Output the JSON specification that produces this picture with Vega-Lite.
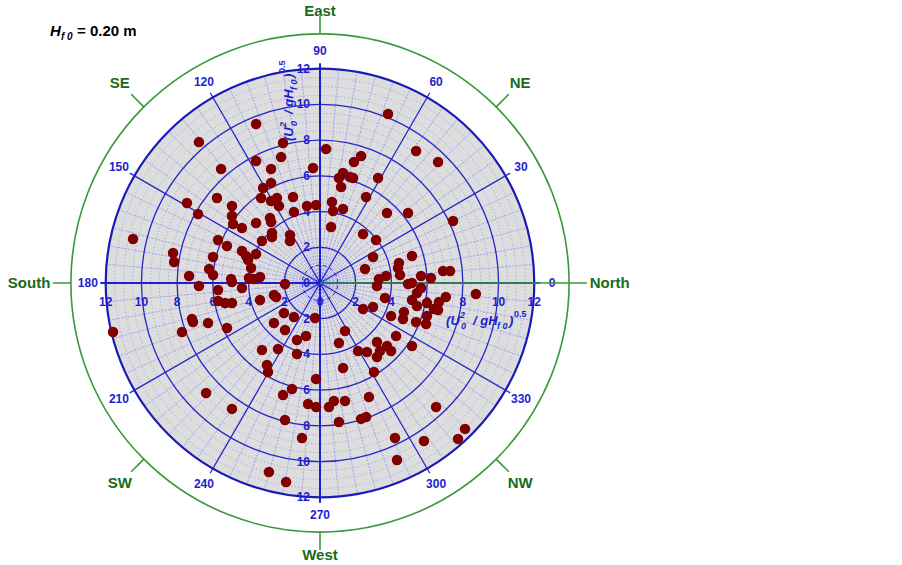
{
  "$schema": "https://vega.github.io/schema/vega-lite/v6.json",
  "width": 500,
  "height": 500,
  "autosize": "none",
  "padding": {"left": 70, "top": 33, "right": 332, "bottom": 32},
  "background": "white",
  "config": {"view": {"stroke": null}},
  "datasets": {
    "pts": [
      {"x":-3.58,"y":8.90},{"x":-6.78,"y":7.89},{"x":-2.07,"y":7.84},{"x":-2.18,"y":7.05},{"x":-3.58,"y":6.83},{"x":-5.54,"y":6.38},{"x":-2.74,"y":6.38},{"x":-0.39,"y":6.44},{"x":-2.74,"y":5.60},{"x":-3.19,"y":5.32},
      {"x":-5.77,"y":4.76},{"x":-3.30,"y":4.76},{"x":-2.41,"y":4.76},{"x":-1.51,"y":4.82},{"x":3.81,"y":9.46},{"x":0.34,"y":7.50},{"x":5.38,"y":7.39},{"x":6.61,"y":6.78},{"x":2.30,"y":7.11},{"x":1.90,"y":6.78},
      {"x":1.29,"y":6.16},{"x":1.06,"y":5.88},{"x":1.68,"y":5.94},{"x":1.85,"y":5.88},{"x":3.25,"y":5.88},{"x":1.18,"y":5.38},{"x":2.58,"y":4.82},{"x":0.67,"y":4.54},{"x":-2.74,"y":4.59},{"x":-2.30,"y":4.31},
      {"x":-0.73,"y":4.31},{"x":-0.22,"y":4.37},{"x":-7.45,"y":4.48},{"x":-4.93,"y":4.31},{"x":-4.93,"y":3.75},{"x":-6.83,"y":3.86},{"x":-1.46,"y":3.98},{"x":-2.80,"y":3.64},{"x":-2.74,"y":3.42},{"x":-3.58,"y":3.36},
      {"x":-4.87,"y":3.30},{"x":-4.37,"y":3.08},{"x":-2.69,"y":2.80},{"x":-2.69,"y":2.58},{"x":-1.68,"y":2.69},{"x":-1.68,"y":2.35},{"x":-10.47,"y":2.46},{"x":-5.71,"y":2.41},{"x":-3.25,"y":2.35},{"x":-5.21,"y":2.07},
      {"x":-8.23,"y":1.68},{"x":-4.37,"y":1.79},{"x":-5.99,"y":1.46},{"x":-4.14,"y":1.51},{"x":-3.58,"y":1.62},{"x":-4.03,"y":1.29},{"x":-8.17,"y":1.18},{"x":-3.86,"y":0.84},{"x":-6.21,"y":0.78},{"x":-5.99,"y":0.45},
      {"x":-7.33,"y":0.39},{"x":-3.98,"y":0.28},{"x":-3.70,"y":0.22},{"x":-3.36,"y":0.34},{"x":-4.98,"y":0.22},{"x":-4.93,"y":0.06},{"x":-6.78,"y":-0.17},{"x":-4.37,"y":-0.28},{"x":-1.96,"y":-0.06},{"x":-5.71,"y":-0.39},
      {"x":-2.58,"y":-0.67},{"x":-2.46,"y":-0.78},{"x":-3.36,"y":-0.95},{"x":-5.71,"y":-1.01},{"x":-5.32,"y":-1.12},{"x":-4.93,"y":-1.12},{"x":-7.17,"y":-2.02},{"x":-7.11,"y":-2.18},{"x":-6.27,"y":-2.24},{"x":-2.02,"y":-1.68},
      {"x":-1.46,"y":-1.90},{"x":-0.28,"y":-1.96},{"x":-2.58,"y":-2.24},{"x":-5.21,"y":-2.52},{"x":-1.96,"y":-2.63},{"x":-11.59,"y":-2.74},{"x":-7.73,"y":-2.74},{"x":-0.78,"y":-2.97},{"x":-1.29,"y":-3.19},{"x":-2.35,"y":-3.70},
      {"x":-3.25,"y":-3.75},{"x":-1.29,"y":-3.98},{"x":-2.97,"y":-4.59},{"x":-2.91,"y":-4.98},{"x":-0.22,"y":-5.38},{"x":0.73,"y":4.03},{"x":1.29,"y":4.14},{"x":3.75,"y":3.92},{"x":4.93,"y":3.92},{"x":7.45,"y":3.47},
      {"x":0.62,"y":3.14},{"x":2.41,"y":2.74},{"x":3.14,"y":2.41},{"x":2.97,"y":1.46},{"x":5.15,"y":1.51},{"x":4.42,"y":1.12},{"x":4.37,"y":0.84},{"x":4.48,"y":0.45},{"x":2.52,"y":0.78},{"x":6.89,"y":0.67},
      {"x":7.28,"y":0.67},{"x":3.70,"y":0.39},{"x":3.30,"y":0.22},{"x":5.66,"y":0.39},{"x":6.21,"y":0.28},{"x":3.19,"y":-0.17},{"x":4.93,"y":-0.06},{"x":5.15,"y":0.0},{"x":5.66,"y":-0.28},{"x":5.43,"y":-0.56},
      {"x":8.73,"y":-0.62},{"x":7.05,"y":-0.78},{"x":3.64,"y":-0.84},{"x":5.15,"y":-0.95},{"x":5.99,"y":-1.12},{"x":6.66,"y":-1.06},{"x":5.43,"y":-1.29},{"x":2.97,"y":-1.34},{"x":2.41,"y":-1.46},{"x":6.38,"y":-1.46},
      {"x":6.61,"y":-1.51},{"x":4.70,"y":-1.62},{"x":3.98,"y":-1.85},{"x":5.99,"y":-1.85},{"x":4.65,"y":-2.02},{"x":5.38,"y":-2.18},{"x":5.94,"y":-2.30},{"x":1.40,"y":-2.69},{"x":4.26,"y":-2.97},{"x":1.06,"y":-3.36},
      {"x":3.19,"y":-3.30},{"x":3.75,"y":-3.53},{"x":5.15,"y":-3.53},{"x":3.36,"y":-3.81},{"x":3.98,"y":-3.81},{"x":2.13,"y":-3.81},{"x":2.63,"y":-3.86},{"x":3.19,"y":-4.14},{"x":1.29,"y":-4.76},{"x":3.02,"y":-4.98},
      {"x":-1.57,"y":-5.94},{"x":-2.07,"y":-6.27},{"x":-6.38,"y":-6.16},{"x":-0.67,"y":-6.78},{"x":-0.22,"y":-6.94},{"x":-4.93,"y":-7.05},{"x":-1.96,"y":-7.67},{"x":-1.01,"y":-8.68},{"x":-2.86,"y":-10.58},{"x":-1.90,"y":-11.14},
      {"x":0.50,"y":-6.94},{"x":0.78,"y":-6.61},{"x":1.40,"y":-6.61},{"x":2.74,"y":-6.38},{"x":6.50,"y":-6.94},{"x":1.06,"y":-7.78},{"x":2.30,"y":-7.61},{"x":2.58,"y":-7.50},{"x":4.20,"y":-8.68},{"x":5.82,"y":-8.85},
      {"x":7.73,"y":-8.73},{"x":8.12,"y":-8.17},{"x":4.31,"y":-9.91}
    ],
    "minorRings": [{"r":0.5},{"r":1.5},{"r":2.5},{"r":3},{"r":3.5},{"r":4.5},{"r":5},{"r":5.5},{"r":6.5},{"r":7},{"r":7.5},{"r":8.5},{"r":9},{"r":9.5},{"r":10.5},{"r":11},{"r":11.5}],
    "majorRings": [{"r":2},{"r":4},{"r":6},{"r":8},{"r":10}],
    "minorSpokes": [{"a":5},{"a":10},{"a":15},{"a":20},{"a":25},{"a":35},{"a":40},{"a":45},{"a":50},{"a":55},{"a":65},{"a":70},{"a":75},{"a":80},{"a":85},{"a":95},{"a":100},{"a":105},{"a":110},{"a":115},{"a":125},{"a":130},{"a":135},{"a":140},{"a":145},{"a":155},{"a":160},{"a":165},{"a":170},{"a":175},{"a":185},{"a":190},{"a":195},{"a":200},{"a":205},{"a":215},{"a":220},{"a":225},{"a":230},{"a":235},{"a":245},{"a":250},{"a":255},{"a":260},{"a":265},{"a":275},{"a":280},{"a":285},{"a":290},{"a":295},{"a":305},{"a":310},{"a":315},{"a":320},{"a":325},{"a":335},{"a":340},{"a":345},{"a":350},{"a":355}],
    "spokes": [{"a":30},{"a":60},{"a":120},{"a":150},{"a":210},{"a":240},{"a":300},{"a":330}],
    "axes4": [{"a":0},{"a":90},{"a":180},{"a":270}],
    "angleLabels": [{"a":0},{"a":30},{"a":60},{"a":90},{"a":120},{"a":150},{"a":180},{"a":210},{"a":240},{"a":270},{"a":300},{"a":330}],
    "rlab0": [{"r":0},{"r":2},{"r":4},{"r":6},{"r":8},{"r":10},{"r":12}],
    "rlab": [{"r":2},{"r":4},{"r":6},{"r":8},{"r":10},{"r":12}],
    "compass": [{"name":"North","a":0},{"name":"NE","a":45},{"name":"East","a":90},{"name":"SE","a":135},{"name":"South","a":180},{"name":"SW","a":225},{"name":"West","a":270},{"name":"NW","a":315}],
    "cEW": [{"name":"East","a":90},{"name":"West","a":270}],
    "cN": [{"name":"North","a":0}],
    "cS": [{"name":"South","a":180}],
    "cDiag": [{"name":"NE","a":45},{"name":"SE","a":135},{"name":"SW","a":225},{"name":"NW","a":315}]
  },
  "layer": [
    {"data": {"values": [{}]}, "mark": {"type": "arc", "fill": "#dddddd", "strokeWidth": 0},
     "encoding": {"theta": {"datum": 0, "scale": {"type": "linear", "domain": [0, 360], "range": [1.5707963, -4.712389], "nice": false, "zero": false}}, "theta2": {"datum": 360},
       "radius": {"datum": 12, "scale": {"type": "linear", "domain": [0, 14], "range": [0, 250], "nice": false, "zero": true}}}},
    {"data": {"name": "minorRings"}, "mark": {"type": "arc", "fill": "transparent", "stroke": "#8e8ef2", "strokeWidth": 0.7, "strokeDash": [1.2, 2.2]},
     "encoding": {"theta": {"datum": 0}, "theta2": {"datum": 360}, "radius": {"field": "r", "type": "quantitative", "stack": null}}},
    {"data": {"name": "minorSpokes"}, "mark": {"type": "arc", "fill": "transparent", "stroke": "#8e8ef2", "strokeWidth": 0.7, "strokeDash": [1.2, 2.2]},
     "encoding": {"theta": {"field": "a", "type": "quantitative", "stack": null}, "theta2": {"field": "a"}, "radius": {"datum": 12}, "radius2": {"datum": 0}}},
    {"data": {"name": "majorRings"}, "mark": {"type": "arc", "fill": "transparent", "stroke": "#2626cc", "strokeWidth": 1.3},
     "encoding": {"theta": {"datum": 0}, "theta2": {"datum": 360}, "radius": {"field": "r", "type": "quantitative", "stack": null}}},
    {"data": {"values": [{}]}, "mark": {"type": "arc", "fill": "transparent", "stroke": "#2626cc", "strokeWidth": 1, "strokeDash": [4, 3]},
     "encoding": {"theta": {"datum": 0}, "theta2": {"datum": 360}, "radius": {"datum": 1}}},
    {"data": {"values": [{}]}, "mark": {"type": "arc", "fill": "transparent", "stroke": "#1a1ab8", "strokeWidth": 2.2},
     "encoding": {"theta": {"datum": 0}, "theta2": {"datum": 360}, "radius": {"datum": 12}}},
    {"data": {"name": "spokes"}, "mark": {"type": "arc", "fill": "transparent", "stroke": "#2626cc", "strokeWidth": 1.3},
     "encoding": {"theta": {"field": "a", "type": "quantitative", "stack": null}, "theta2": {"field": "a"}, "radius": {"datum": 12.3}, "radius2": {"datum": 0}}},
    {"data": {"name": "axes4"}, "mark": {"type": "arc", "fill": "transparent", "stroke": "#1f1fd0", "strokeWidth": 2},
     "encoding": {"theta": {"field": "a", "type": "quantitative", "stack": null}, "theta2": {"field": "a"}, "radius": {"datum": 12.3}, "radius2": {"datum": 0}}},
    {"data": {"name": "rlab0"}, "mark": {"type": "text", "dy": 19, "align": "center", "baseline": "middle", "font": "Liberation Sans", "fontWeight": "bold", "fontSize": 12, "color": "#1e1ecf"},
     "encoding": {"theta": {"datum": 0}, "radius": {"field": "r", "type": "quantitative", "stack": null}, "text": {"field": "r", "type": "quantitative"}}},
    {"data": {"name": "rlab"}, "mark": {"type": "text", "dy": 19, "align": "center", "baseline": "middle", "font": "Liberation Sans", "fontWeight": "bold", "fontSize": 12, "color": "#1e1ecf"},
     "encoding": {"theta": {"datum": 180}, "radius": {"field": "r", "type": "quantitative", "stack": null}, "text": {"field": "r", "type": "quantitative"}}},
    {"data": {"name": "rlab0"}, "mark": {"type": "text", "dx": -10, "align": "right", "baseline": "middle", "font": "Liberation Sans", "fontWeight": "bold", "fontSize": 12, "color": "#1e1ecf"},
     "encoding": {"theta": {"datum": 90}, "radius": {"field": "r", "type": "quantitative", "stack": null}, "text": {"field": "r", "type": "quantitative"}}},
    {"data": {"name": "rlab"}, "mark": {"type": "text", "dx": -10, "align": "right", "baseline": "middle", "font": "Liberation Sans", "fontWeight": "bold", "fontSize": 12, "color": "#1e1ecf"},
     "encoding": {"theta": {"datum": 270}, "radius": {"field": "r", "type": "quantitative", "stack": null}, "text": {"field": "r", "type": "quantitative"}}},
    {"data": {"name": "angleLabels"}, "mark": {"type": "text", "align": "center", "baseline": "middle", "font": "Liberation Sans", "fontWeight": "bold", "fontSize": 12, "color": "#1e1ecf"},
     "encoding": {"theta": {"field": "a", "type": "quantitative", "stack": null}, "radius": {"datum": 13.0}, "text": {"field": "a", "type": "quantitative"}}},
    {"data": {"values": [{}]}, "mark": {"type": "arc", "fill": "transparent", "stroke": "#3a993a", "strokeWidth": 1.6},
     "encoding": {"theta": {"datum": 0}, "theta2": {"datum": 360}, "radius": {"datum": 13.95}}},
    {"data": {"name": "compass"}, "mark": {"type": "arc", "fill": "transparent", "stroke": "#3a993a", "strokeWidth": 1.6},
     "encoding": {"theta": {"field": "a", "type": "quantitative", "stack": null}, "theta2": {"field": "a"}, "radius": {"datum": 14.95}, "radius2": {"datum": 13.95}}},
    {"data": {"name": "cEW"}, "mark": {"type": "text", "align": "center", "baseline": "middle", "font": "Liberation Sans", "fontWeight": "bold", "fontSize": 15, "color": "#1b6a1b"},
     "encoding": {"theta": {"field": "a", "type": "quantitative", "stack": null}, "radius": {"datum": 15.25}, "text": {"field": "name"}}},
    {"data": {"name": "cN"}, "mark": {"type": "text", "align": "left", "baseline": "middle", "font": "Liberation Sans", "fontWeight": "bold", "fontSize": 15, "color": "#1b6a1b"},
     "encoding": {"theta": {"field": "a", "type": "quantitative", "stack": null}, "radius": {"datum": 15.1}, "text": {"field": "name"}}},
    {"data": {"name": "cS"}, "mark": {"type": "text", "align": "right", "baseline": "middle", "font": "Liberation Sans", "fontWeight": "bold", "fontSize": 15, "color": "#1b6a1b"},
     "encoding": {"theta": {"field": "a", "type": "quantitative", "stack": null}, "radius": {"datum": 15.1}, "text": {"field": "name"}}},
    {"data": {"name": "cDiag"}, "mark": {"type": "text", "align": "center", "baseline": "middle", "font": "Liberation Sans", "fontWeight": "bold", "fontSize": 15, "color": "#1b6a1b"},
     "encoding": {"theta": {"field": "a", "type": "quantitative", "stack": null}, "radius": {"datum": 15.85}, "text": {"field": "name"}}},
    {"data": {"name": "pts"}, "mark": {"type": "circle", "color": "#800000", "opacity": 1, "size": 110},
     "encoding": {"x": {"field": "x", "type": "quantitative", "scale": {"domain": [-14, 14], "nice": false}, "axis": null},
       "y": {"field": "y", "type": "quantitative", "scale": {"domain": [-14, 14], "nice": false}, "axis": null}}},
    {"data": {"values": [{}]}, "mark": {"type": "text", "text": "H", "align": "left", "baseline": "alphabetic", "font": "Liberation Sans", "fontWeight": "bold", "fontStyle": "italic", "fontSize": 15, "color": "black"},
     "encoding": {"x": {"datum": -15.12}, "y": {"datum": 13.83}}},
    {"data": {"values": [{}]}, "mark": {"type": "text", "text": "f 0", "dx": 11, "dy": 4, "align": "left", "baseline": "alphabetic", "font": "Liberation Sans", "fontWeight": "bold", "fontStyle": "italic", "fontSize": 10, "color": "black"},
     "encoding": {"x": {"datum": -15.12}, "y": {"datum": 13.83}}},
    {"data": {"values": [{}]}, "mark": {"type": "text", "text": "= 0.20 m", "dx": 27, "align": "left", "baseline": "alphabetic", "font": "Liberation Sans", "fontWeight": "bold", "fontSize": 15, "color": "black"},
     "encoding": {"x": {"datum": -15.12}, "y": {"datum": 13.83}}},
    {"data": {"values": [{}]}, "mark": {"type": "text", "text": "(U", "dx": 0, "align": "left", "baseline": "alphabetic", "font": "Liberation Sans", "fontWeight": "bold", "fontStyle": "italic", "fontSize": 13, "color": "#1e1ecf"},
     "encoding": {"x": {"datum": 7.06}, "y": {"datum": -2.35}}},
    {"data": {"values": [{}]}, "mark": {"type": "text", "text": "2", "dx": 14, "dy": -7, "align": "left", "baseline": "alphabetic", "font": "Liberation Sans", "fontWeight": "bold", "fontStyle": "italic", "fontSize": 9, "color": "#1e1ecf"},
     "encoding": {"x": {"datum": 7.06}, "y": {"datum": -2.35}}},
    {"data": {"values": [{}]}, "mark": {"type": "text", "text": "0", "dx": 15, "dy": 4, "align": "left", "baseline": "alphabetic", "font": "Liberation Sans", "fontWeight": "bold", "fontStyle": "italic", "fontSize": 9, "color": "#1e1ecf"},
     "encoding": {"x": {"datum": 7.06}, "y": {"datum": -2.35}}},
    {"data": {"values": [{}]}, "mark": {"type": "text", "text": "/ gH", "dx": 27, "align": "left", "baseline": "alphabetic", "font": "Liberation Sans", "fontWeight": "bold", "fontStyle": "italic", "fontSize": 13, "color": "#1e1ecf"},
     "encoding": {"x": {"datum": 7.06}, "y": {"datum": -2.35}}},
    {"data": {"values": [{}]}, "mark": {"type": "text", "text": "f 0", "dx": 51, "dy": 4, "align": "left", "baseline": "alphabetic", "font": "Liberation Sans", "fontWeight": "bold", "fontStyle": "italic", "fontSize": 9, "color": "#1e1ecf"},
     "encoding": {"x": {"datum": 7.06}, "y": {"datum": -2.35}}},
    {"data": {"values": [{}]}, "mark": {"type": "text", "text": ")", "dx": 63, "align": "left", "baseline": "alphabetic", "font": "Liberation Sans", "fontWeight": "bold", "fontStyle": "italic", "fontSize": 13, "color": "#1e1ecf"},
     "encoding": {"x": {"datum": 7.06}, "y": {"datum": -2.35}}},
    {"data": {"values": [{}]}, "mark": {"type": "text", "text": "0.5", "dx": 68, "dy": -8, "align": "left", "baseline": "alphabetic", "font": "Liberation Sans", "fontWeight": "bold", "fontSize": 9, "color": "#1e1ecf"},
     "encoding": {"x": {"datum": 7.06}, "y": {"datum": -2.35}}},
    {"data": {"values": [{}]}, "mark": {"type": "text", "text": "(U", "angle": 270, "dx": 0, "align": "left", "baseline": "alphabetic", "font": "Liberation Sans", "fontWeight": "bold", "fontStyle": "italic", "fontSize": 13, "color": "#1e1ecf"},
     "encoding": {"x": {"datum": -1.51}, "y": {"datum": 7.95}}},
    {"data": {"values": [{}]}, "mark": {"type": "text", "text": "2", "angle": 270, "dx": 14, "dy": -7, "align": "left", "baseline": "alphabetic", "font": "Liberation Sans", "fontWeight": "bold", "fontStyle": "italic", "fontSize": 9, "color": "#1e1ecf"},
     "encoding": {"x": {"datum": -1.51}, "y": {"datum": 7.95}}},
    {"data": {"values": [{}]}, "mark": {"type": "text", "text": "0", "angle": 270, "dx": 15, "dy": 4, "align": "left", "baseline": "alphabetic", "font": "Liberation Sans", "fontWeight": "bold", "fontStyle": "italic", "fontSize": 9, "color": "#1e1ecf"},
     "encoding": {"x": {"datum": -1.51}, "y": {"datum": 7.95}}},
    {"data": {"values": [{}]}, "mark": {"type": "text", "text": "/ gH", "angle": 270, "dx": 27, "align": "left", "baseline": "alphabetic", "font": "Liberation Sans", "fontWeight": "bold", "fontStyle": "italic", "fontSize": 13, "color": "#1e1ecf"},
     "encoding": {"x": {"datum": -1.51}, "y": {"datum": 7.95}}},
    {"data": {"values": [{}]}, "mark": {"type": "text", "text": "f 0", "angle": 270, "dx": 51, "dy": 4, "align": "left", "baseline": "alphabetic", "font": "Liberation Sans", "fontWeight": "bold", "fontStyle": "italic", "fontSize": 9, "color": "#1e1ecf"},
     "encoding": {"x": {"datum": -1.51}, "y": {"datum": 7.95}}},
    {"data": {"values": [{}]}, "mark": {"type": "text", "text": ")", "angle": 270, "dx": 63, "align": "left", "baseline": "alphabetic", "font": "Liberation Sans", "fontWeight": "bold", "fontStyle": "italic", "fontSize": 13, "color": "#1e1ecf"},
     "encoding": {"x": {"datum": -1.51}, "y": {"datum": 7.95}}},
    {"data": {"values": [{}]}, "mark": {"type": "text", "text": "0.5", "angle": 270, "dx": 68, "dy": -8, "align": "left", "baseline": "alphabetic", "font": "Liberation Sans", "fontWeight": "bold", "fontSize": 9, "color": "#1e1ecf"},
     "encoding": {"x": {"datum": -1.51}, "y": {"datum": 7.95}}}
  ]
}
